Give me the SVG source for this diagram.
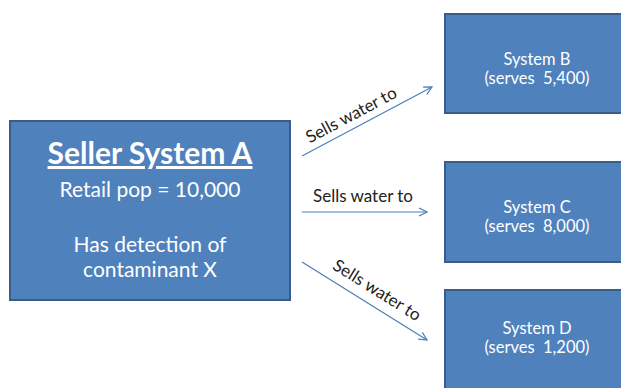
<svg xmlns="http://www.w3.org/2000/svg" width="621" height="388" viewBox="0 0 621 388">
<defs>
<style>
.box{fill:#4F81BD;stroke:#385D8A;stroke-width:2}
.t{font-family:Lato,"Open Sans","Liberation Sans",sans-serif;fill:#fff;text-anchor:middle;white-space:pre}
.lbl{font-family:Lato,"Open Sans","Liberation Sans",sans-serif;fill:#222;font-size:17px;text-anchor:middle}
.conn{stroke:#4A7EBB;stroke-width:1.2;fill:none;marker-end:url(#ah)}
</style>
<marker id="ah" viewBox="0 0 10 10" refX="9" refY="5" markerWidth="10" markerHeight="10" markerUnits="userSpaceOnUse" orient="auto">
<path d="M1,1 L9,5 L1,9" fill="none" stroke="#4A7EBB" stroke-width="1.2"/>
</marker>
</defs>
<rect width="621" height="388" fill="#fff"/>
<g id="nodeA">
<rect class="box" x="10" y="121" width="280" height="179"/>
<text class="t" x="150" y="164" font-size="30" font-weight="bold" text-decoration="underline">Seller System A</text>
<text class="t" x="150" y="197" font-size="21">Retail pop = 10,000</text>
<text class="t" x="150" y="252" font-size="21">Has detection of</text>
<text class="t" x="150" y="277" font-size="21">contaminant X</text>
</g>
<g id="nodeB">
<rect class="box" x="445" y="14" width="180" height="99"/>
<text class="t" x="537" y="65" font-size="16.5">System B</text>
<text class="t" x="537" y="84" font-size="16.5" xml:space="preserve">(serves  5,400)</text>
</g>
<g id="nodeC">
<rect class="box" x="445" y="162" width="180" height="100"/>
<text class="t" x="537" y="213" font-size="16.5">System C</text>
<text class="t" x="537" y="232" font-size="16.5" xml:space="preserve">(serves  8,000)</text>
</g>
<g id="nodeD">
<rect class="box" x="445" y="290" width="180" height="105"/>
<text class="t" x="537" y="334" font-size="16.5">System D</text>
<text class="t" x="537" y="353" font-size="16.5" xml:space="preserve">(serves  1,200)</text>
</g>
<g id="connectors">
<line class="conn" x1="302" y1="156" x2="432" y2="87"/>
<line class="conn" x1="302" y1="212" x2="427" y2="212"/>
<line class="conn" x1="302" y1="262" x2="427" y2="340"/>
<text class="lbl" x="0" y="0" transform="translate(354,120) rotate(-28)">Sells water to</text>
<text class="lbl" x="363" y="202">Sells water to</text>
<text class="lbl" x="0" y="0" transform="translate(374,295) rotate(32)">Sells water to</text>
</g>
</svg>
